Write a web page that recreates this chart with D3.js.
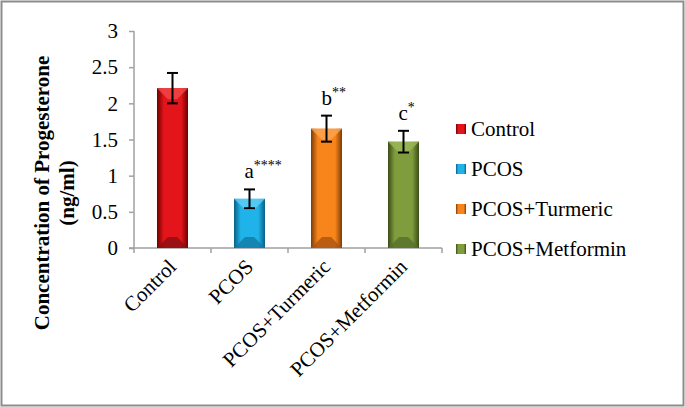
<!DOCTYPE html>
<html>
<head>
<meta charset="utf-8">
<script src="https://cdn.jsdelivr.net/npm/d3@7"></script>
<style>
  body { margin: 0; background: #fff; }
  svg text { font-family: 'Liberation Serif', 'Times New Roman', 'DejaVu Serif', serif; }
</style>
</head>
<body>
<svg id="chart" width="685" height="407"></svg>
<script>
// data
var groups = ['Control', 'PCOS', 'PCOS+Turmeric', 'PCOS+Metformin']
var means = [2.21, 0.68, 1.65, 1.47]
var errs = [0.21, 0.13, 0.18, 0.15]
var sigLetters = ['', 'a', 'b', 'c']
var sigStars = ['', '****', '**', '*']
var yTicks = [0, 0.5, 1, 1.5, 2, 2.5, 3]

// mid, edge, light colours for the bevelled bars
var barColors = [
  { mid: '#e3141a', edge: '#6e0000', light: '#f04a4a', dark: '#8a0e10' },
  { mid: '#1fb3ea', edge: '#0b5f85', light: '#5fd0f6', dark: '#137aa4' },
  { mid: '#f8841c', edge: '#7e3c04', light: '#fba552', dark: '#a95510' },
  { mid: '#7f9d3d', edge: '#3a4c18', light: '#9cb95a', dark: '#56702a' }
]

var serif = "'Liberation Serif', 'Times New Roman', serif"
var fs = 21

var svg = d3.select('#chart').attr('font-family', serif)

// outer frame
svg.append('rect')
  .attr('x', 1.5).attr('y', 1.5)
  .attr('width', 682).attr('height', 404)
  .attr('fill', '#fff')
  .attr('stroke', '#8c8c8c')
  .attr('stroke-width', 2)

var pLeft = 134, pRight = 442, pTop = 31, pBottom = 248

var x = d3.scaleBand().domain(groups).range([pLeft, pRight]).paddingInner(0).paddingOuter(0)
var y = d3.scaleLinear().domain([0, 3]).range([pBottom, pTop])

var defs = svg.append('defs')
barColors.forEach(function (c, i) {
  var g = defs.append('linearGradient').attr('id', 'grad' + i)
    .attr('x1', '0%').attr('x2', '100%').attr('y1', '0%').attr('y2', '0%')
  g.append('stop').attr('offset', '0%').attr('stop-color', c.edge)
  g.append('stop').attr('offset', '22%').attr('stop-color', c.mid)
  g.append('stop').attr('offset', '78%').attr('stop-color', c.mid)
  g.append('stop').attr('offset', '100%').attr('stop-color', c.edge)
})

// y axis
var yAxis = d3.axisLeft(y).tickValues(yTicks).tickSize(5).tickPadding(11)
  .tickFormat(function (d) { return d })
var ya = svg.append('g').attr('transform', 'translate(' + pLeft + ',0)').call(yAxis)
ya.attr('font-family', serif).attr('font-size', fs)
ya.select('.domain').attr('stroke', '#a0a0a0').attr('stroke-width', 1.5).attr('d', 'M0,' + pTop + 'V' + pBottom)
ya.selectAll('.tick line').attr('stroke', '#a0a0a0').attr('stroke-width', 1.5)
ya.selectAll('.tick text').attr('fill', '#000')

// x axis with ticks on the category boundaries
svg.append('line')
  .attr('x1', pLeft - 5).attr('x2', pRight)
  .attr('y1', pBottom).attr('y2', pBottom)
  .attr('stroke', '#a0a0a0').attr('stroke-width', 1.5)
var bounds = groups.map(function (g) { return x(g) }).concat([pRight])
svg.selectAll('.xtick').data(bounds).enter().append('line')
  .attr('class', 'xtick')
  .attr('x1', function (d) { return d }).attr('x2', function (d) { return d })
  .attr('y1', pBottom).attr('y2', pBottom + 5)
  .attr('stroke', '#a0a0a0').attr('stroke-width', 1.5)

svg.selectAll('.xlab').data(groups).enter().append('text')
  .attr('class', 'xlab')
  .attr('font-size', fs)
  .attr('text-anchor', 'end')
  .attr('transform', function (d) {
    return 'translate(' + (x(d) + x.bandwidth() / 2 + 5) + ',' + (pBottom + 20) + ') rotate(-45)'
  })
  .text(function (d) { return d })

// bars
var barW = 31
var bars = svg.selectAll('.bar').data(groups).enter().append('g').attr('class', 'bar')
bars.append('rect')
  .attr('x', function (d) { return x(d) + x.bandwidth() / 2 - barW / 2 })
  .attr('y', function (d, i) { return y(means[i]) })
  .attr('width', barW)
  .attr('height', function (d, i) { return y(0) - y(means[i]) })
  .attr('fill', function (d, i) { return 'url(#grad' + i + ')' })

// bevel facets at top and bottom of each bar
var bev = 11
bars.append('path')
  .attr('d', function (d, i) {
    var x0 = x(d) + x.bandwidth() / 2 - barW / 2, y0 = y(means[i])
    return 'M' + x0 + ',' + y0 + 'H' + (x0 + barW) + 'L' + (x0 + barW - bev) + ',' + (y0 + bev) +
      'H' + (x0 + bev) + 'Z'
  })
  .attr('fill', function (d, i) { return barColors[i].light })
  .attr('opacity', 0.8)
bars.append('path')
  .attr('d', function (d, i) {
    var x0 = x(d) + x.bandwidth() / 2 - barW / 2, y0 = y(0)
    return 'M' + x0 + ',' + y0 + 'H' + (x0 + barW) + 'L' + (x0 + barW - bev) + ',' + (y0 - bev) +
      'H' + (x0 + bev) + 'Z'
  })
  .attr('fill', function (d, i) { return barColors[i].dark })
  .attr('opacity', 0.8)

// error bars
var cap = 5.5
var eb = svg.selectAll('.err').data(groups).enter().append('g').attr('class', 'err')
  .attr('stroke', '#000').attr('stroke-width', 2)
eb.append('line')
  .attr('x1', function (d) { return x(d) + x.bandwidth() / 2 })
  .attr('x2', function (d) { return x(d) + x.bandwidth() / 2 })
  .attr('y1', function (d, i) { return y(means[i] + errs[i]) })
  .attr('y2', function (d, i) { return y(means[i] - errs[i]) })
eb.append('line')
  .attr('x1', function (d) { return x(d) + x.bandwidth() / 2 - cap })
  .attr('x2', function (d) { return x(d) + x.bandwidth() / 2 + cap })
  .attr('y1', function (d, i) { return y(means[i] + errs[i]) })
  .attr('y2', function (d, i) { return y(means[i] + errs[i]) })
eb.append('line')
  .attr('x1', function (d) { return x(d) + x.bandwidth() / 2 - cap })
  .attr('x2', function (d) { return x(d) + x.bandwidth() / 2 + cap })
  .attr('y1', function (d, i) { return y(means[i] - errs[i]) })
  .attr('y2', function (d, i) { return y(means[i] - errs[i]) })

// significance labels: letter centred over the bar, stars as superscript
var sig = svg.selectAll('.sig').data(groups).enter().append('text')
  .attr('class', 'sig')
  .attr('font-size', fs)
  .attr('x', function (d) { return x(d) + x.bandwidth() / 2 - 5 })
  .attr('y', function (d, i) { return y(means[i] + errs[i]) - 11 })
sig.append('tspan').text(function (d, i) { return sigLetters[i] })
sig.append('tspan').attr('font-size', 14).attr('dy', -8)
  .text(function (d, i) { return sigStars[i] })

// y axis title
var yt = svg.append('text')
  .attr('transform', 'translate(49,193) rotate(-90)')
  .attr('text-anchor', 'middle')
  .attr('font-size', 21)
  .attr('font-weight', 'bold')
yt.append('tspan').attr('x', 0).attr('dy', 0).text('Concentration of Progesterone')
yt.append('tspan').attr('x', 0).attr('dy', 25).text('(ng/ml)')

// legend
var leg = svg.selectAll('.leg').data(groups).enter().append('g').attr('class', 'leg')
  .attr('transform', function (d, i) { return 'translate(456,' + (129 + i * 40) + ')' })
leg.append('rect')
  .attr('x', 0).attr('y', -5).attr('width', 10).attr('height', 10)
  .attr('fill', function (d, i) { return 'url(#grad' + i + ')' })
leg.append('text')
  .attr('x', 15).attr('y', 7)
  .attr('font-size', fs)
  .text(function (d) { return d })
</script>
</body>
</html>
